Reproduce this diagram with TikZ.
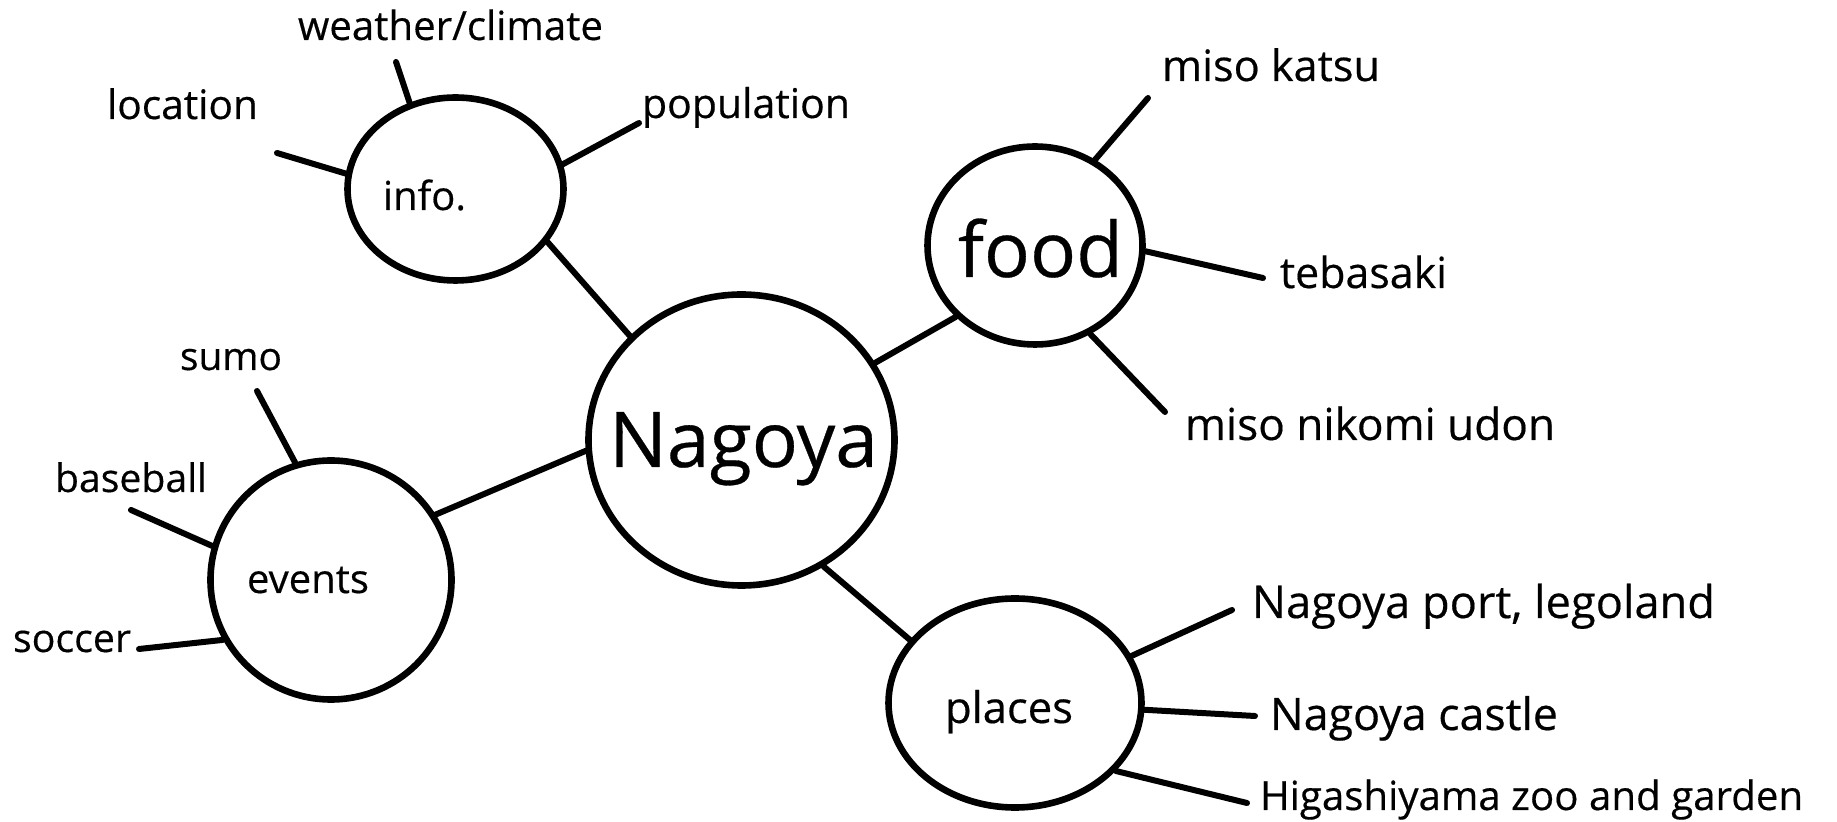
\documentclass[tikz,border=0pt]{standalone}
\usepackage{fontspec}
\setmainfont{Open Sans}[FakeBold=0.4,AutoFakeBold=0.4]
\usetikzlibrary{shapes.geometric}
\newcommand{\fitw}[2]{\resizebox{#1}{!}{\bfseries #2}}
\begin{document}
\begin{tikzpicture}[x=0.5pt,y=-0.5pt,
  bubble/.style={draw=black, line width=3.3pt, ellipse, inner sep=0pt, fill=white},
  conn/.style={draw=black, line width=3pt, line cap=round},
  lbl/.style={inner sep=0pt, outer sep=0pt, anchor=base west, text=black}]
\fill[white] (0,0) rectangle (1837,822);
\useasboundingbox (0,0) rectangle (1837,822);

% bubbles
\node[bubble, minimum width=108pt, minimum height=91.5pt] (info) at (455.5,189) {};
\node[bubble, minimum width=153pt, minimum height=145.5pt] (nagoya) at (741.5,440) {};
\node[bubble, minimum width=107.5pt, minimum height=99pt] (food) at (1035,245.5) {};
\node[bubble, minimum width=120.5pt, minimum height=119.5pt] (events) at (331,580) {};
\node[bubble, minimum width=126.5pt, minimum height=104.5pt] (places) at (1015,703) {};

% bubble texts
\node[lbl] (infoT) at (383,210) {\fitw{41.5pt}{info.}};
\node[lbl] (nagoyaT) at (609,467) {\fitw{134.5pt}{Nagoya}};
\node[lbl] (foodT) at (958,277) {\fitw{82.5pt}{food}};
\node[lbl] (eventsT) at (247,593) {\fitw{61pt}{events}};
\node[lbl] (placesT) at (945,723) {\fitw{64pt}{places}};

% leaf texts
\node[lbl] (weatherT) at (298,40) {\fitw{152.5pt}{weather/climate}};
\node[lbl] (locationT) at (107,119) {\fitw{75.5pt}{location}};
\node[lbl] (populationT) at (642,118) {\fitw{104pt}{population}};
\node[lbl] (katsuT) at (1162,81) {\fitw{109pt}{miso katsu}};
\node[lbl] (tebasakiT) at (1280,288) {\fitw{83.5pt}{tebasaki}};
\node[lbl] (nikomiT) at (1185,440) {\fitw{185pt}{miso nikomi udon}};
\node[lbl] (sumoT) at (180,370) {\fitw{51pt}{sumo}};
\node[lbl] (baseballT) at (55,492) {\fitw{76pt}{baseball}};
\node[lbl] (soccerT) at (13,652) {\fitw{59pt}{soccer}};
\node[lbl] (portT) at (1252,618) {\fitw{231.5pt}{Nagoya port, legoland}};
\node[lbl] (castleT) at (1270,730) {\fitw{144pt}{Nagoya castle}};
\node[lbl] (higashiT) at (1260,810) {\fitw{271.5pt}{Higashiyama zoo and garden}};

% free ends of leaf connectors
\coordinate (eLoc) at (277,153);
\coordinate (eWea) at (396,62);
\coordinate (ePop) at (639,123);
\coordinate (eKat) at (1148,98);
\coordinate (eTeb) at (1263,278);
\coordinate (eNik) at (1165,412);
\coordinate (eSum) at (257,391);
\coordinate (eBas) at (131,510);
\coordinate (eSoc) at (139,649);
\coordinate (ePor) at (1232,610);
\coordinate (eCas) at (1255,716);
\coordinate (eHig) at (1247,803);

% main connectors
\draw[conn] (info.-30.6) -- (nagoya.137.5);
\draw[conn] (nagoya.30.3) -- (food.222.3);
\draw[conn] (nagoya.184.3) -- (events.32.7);
\draw[conn] (nagoya.-57.3) -- (places.149.8);

% leaf connectors
\draw[conn] (info.172.8) -- (eLoc);
\draw[conn] (info.118.8) -- (eWea);
\draw[conn] (info.13.9) -- (ePop);
\draw[conn] (food.55.9) -- (eKat);
\draw[conn] (food.-3.8) -- (eTeb);
\draw[conn] (food.-58.4) -- (eNik);
\draw[conn] (events.107.3) -- (eSum);
\draw[conn] (events.164.2) -- (eBas);
\draw[conn] (events.209.9) -- (eSoc);
\draw[conn] (places.22.7) -- (ePor);
\draw[conn] (places.-3.1) -- (eCas);
\draw[conn] (places.-34.5) -- (eHig);
\end{tikzpicture}
\end{document}
